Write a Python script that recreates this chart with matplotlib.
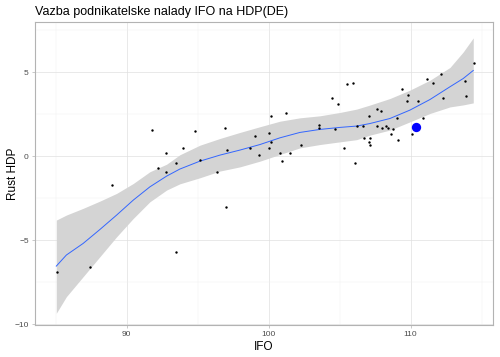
import numpy as np
import matplotlib
matplotlib.use("Agg")
import matplotlib.pyplot as plt
from matplotlib.ticker import MultipleLocator

plt.rcParams["font.family"] = ["Liberation Sans", "DejaVu Sans"]

# IFO index vs GDP growth
ifo = [88.96, 91.8, 92.2, 92.75, 92.77, 93.45, 93.99, 94.83, 95.2, 96.34,
       96.94, 97.06, 98.7, 99.06, 99.29, 100.0, 100.0, 100.16, 100.2, 100.82,
       100.96, 101.24, 101.48, 102.25, 103.54, 103.54, 104.46, 104.67, 104.86,
       105.28, 105.54, 105.92, 106.08, 106.24, 106.62, 106.71, 107.06, 107.13,
       107.13, 107.08, 107.6, 107.89, 107.65, 107.98, 108.28, 108.4, 108.59,
       108.77, 109.03, 109.1, 109.37, 109.72, 109.79, 110.09, 110.51, 110.84,
       111.17, 111.54, 112.11, 112.27, 113.8, 113.87, 114.44, 97.01, 93.47,
       87.39, 85.07]
hdp = [-1.71, 1.57, -0.71, 0.18, -0.93, -0.42, 0.49, 1.47, -0.24, -0.93,
       1.67, 0.38, 0.49, 1.17, 0.08, 1.37, 0.49, 0.87, 2.38, 0.18,
       -0.32, 2.58, 0.18, 0.67, 1.88, 1.67, 3.47, 1.59, 3.08,
       0.49, 4.27, 4.38, -0.42, 1.77, 1.77, 1.07, 0.87, 1.07,
       0.67, 2.38, 2.78, 2.68, 1.77, 1.67, 1.77, 1.67, 1.29,
       1.59, 2.28, 0.99, 3.97, 3.27, 3.67, 1.29, 3.27, 2.28,
       4.57, 4.38, 4.88, 3.47, 4.46, 3.57, 5.55, -3.02, -5.73,
       -6.63, -6.92]

# current observation (highlighted)
cur_ifo = [110.35]
cur_hdp = [1.75]

# smoothed fit and confidence band
fit_x = [85.05, 85.76, 86.94, 88.12, 89.3, 90.47, 91.64, 92.82, 93.75, 95.16,
         96.57, 97.98, 99.39, 100.8, 102.2, 103.61, 105.02, 106.2, 107.13,
         108.54, 109.95, 111.36, 112.77, 113.7, 114.41]
fit_y = [-6.55, -5.89, -5.2, -4.37, -3.51, -2.62, -1.83, -1.19, -0.77, -0.30,
         0.06, 0.36, 0.69, 1.09, 1.41, 1.59, 1.71, 1.79, 1.94,
         2.24, 2.74, 3.37, 4.13, 4.62, 5.1]
fit_lo = [-9.36, -8.37, -7.18, -5.99, -4.8, -3.71, -2.72, -2.02, -1.65, -1.29,
          -0.89, -0.64, -0.3, 0.1, 0.49, 0.69, 0.85, 0.98, 1.25,
          1.55, 2.04, 2.54, 2.93, 3.05, 3.17]
fit_hi = [-3.81, -3.51, -3.11, -2.68, -2.22, -1.63, -0.93, -0.48, 0.08, 0.65,
          1.05, 1.41, 1.75, 2.08, 2.28, 2.4, 2.6, 2.8, 3.04,
          3.43, 3.93, 4.52, 5.28, 6.2, 7.04]

fig = plt.figure(figsize=(5, 3.57), dpi=100)
ax = fig.add_axes([0.07, 0.09, 0.916, 0.848])

ax.fill_between(fit_x, fit_lo, fit_hi, color="#d4d4d4", linewidth=0, zorder=2)
ax.plot(fit_x, fit_y, color="#3366FF", linewidth=0.7, zorder=3)
ax.scatter(ifo, hdp, s=3, color="black", linewidths=0, zorder=4)
ax.scatter(cur_ifo, cur_hdp, s=45, color="#0000FF", linewidths=0, zorder=5)

ax.set_xlim(83.55, 115.8)
ax.set_ylim(-10.05, 7.98)
ax.xaxis.set_major_locator(MultipleLocator(10))
ax.xaxis.set_minor_locator(MultipleLocator(5))
ax.yaxis.set_major_locator(MultipleLocator(5))
ax.yaxis.set_minor_locator(MultipleLocator(2.5))

ax.grid(which="major", color="#e0e0e0", linewidth=0.5, zorder=0)
ax.grid(which="minor", color="#eeeeee", linewidth=0.3, zorder=0)
ax.set_axisbelow(True)
for s in ax.spines.values():
    s.set_color("#b3b3b3")
    s.set_linewidth(0.8)
ax.tick_params(which="major", length=2.5, width=0.5, color="#b3b3b3",
               labelsize=6, labelcolor="#4d4d4d", pad=2)
ax.tick_params(which="minor", length=0)

ax.set_xlabel("IFO", fontsize=8.5, labelpad=2)
ax.set_ylabel("Rust HDP", fontsize=8.5)
ax.yaxis.set_label_coords(-0.035, 0.5)
ax.set_title("Vazba podnikatelske nalady IFO na HDP(DE)", fontsize=9,
             loc="left", pad=5)

fig.savefig("out.png", dpi=100)
